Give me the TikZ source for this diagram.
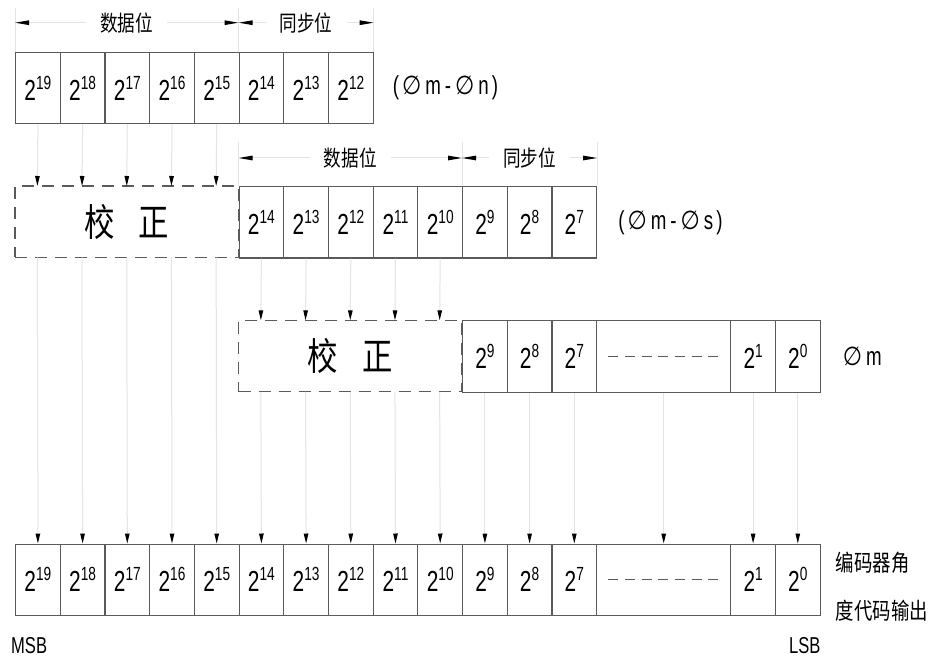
\documentclass[tikz,border=0pt]{standalone}
\usepackage{fontspec}
\setmainfont{Liberation Sans}[FakeStretch=0.72]
\newfontfamily\cjk{Noto Sans CJK SC}[FakeStretch=0.8]
\newfontfamily\symf{DejaVu Sans}[FakeStretch=0.85]
\usepackage{tikz}
\usetikzlibrary{arrows.meta,fit,positioning}

\definecolor{boxgray}{HTML}{5A5A5A}
\definecolor{linegray}{HTML}{E4E4E4}
\newcommand{\pw}[1]{2\raisebox{11pt}{\fontsize{19}{19}\selectfont #1}}
\newcommand{\phm}{{\symf ∅}}

\tikzset{
  cell/.style={draw=boxgray, line width=1.1pt, minimum width=44.7pt, minimum height=71.5pt,
    inner sep=0pt, anchor=north west, font=\fontsize{29}{29}\selectfont},
  hole/.style={cell, draw=none, outer sep=0pt},
  corrbox/.style={draw=boxgray, line width=1.1pt, dash pattern=on 12pt off 8pt, inner sep=0pt},
  corrtext/.style={inner sep=0pt, font=\cjk\fontsize{38}{38}\selectfont},
  feed/.style={draw=linegray, line width=1pt, -{Triangle[length=10pt,width=4.5pt,color=black]}},
  dimline/.style={draw=linegray, line width=1pt,
    {Triangle[length=14pt,width=4.5pt,color=black]}-{Triangle[length=14pt,width=4.5pt,color=black]}},
  extline/.style={draw=linegray, line width=1pt},
  dimtext/.style={fill=white, inner xsep=14pt, inner ysep=0pt, font=\cjk\fontsize{22}{22}\selectfont},
  sidetext/.style={inner sep=0pt, font=\fontsize{26}{26}\selectfont},
  cjktext/.style={inner sep=0pt, anchor=west, font=\cjk\fontsize{23}{23}\selectfont},
  endtext/.style={inner sep=0pt, text depth=0pt, font=\fontsize{23}{23}\selectfont},
}

\begin{document}
\begin{tikzpicture}[x=1pt,y=-1pt]
  \useasboundingbox (0,0) rectangle (931,660);

  % first word (phi m - phi n)
  \foreach \i in {0,...,7}{
    \pgfmathtruncatemacro\e{19-\i}
    \node[cell] (r1c\i) at (15+\i*44.7,51.7) {\pw{\e}};
  }
  \node[sidetext, right=19pt of r1c7] (lab1)
    {(\hspace{3pt}\phm\hspace{4pt}m\hspace{4pt}-\hspace{4pt}\phm\hspace{4pt}n\hspace{3pt})};

  % second word (phi m - phi s)
  \foreach \i in {0,...,4}
    \node[hole] (r2c\i) at (15+\i*44.7,186) {};
  \node[corrbox, fit=(r2c0)(r2c4)] (cor2) {};
  \node[corrtext] (txt2) at (cor2.center) {校\hspace{24pt}正};
  \foreach \i in {5,...,12}{
    \pgfmathtruncatemacro\e{19-\i}
    \node[cell] (r2c\i) at (15+\i*44.7,186) {\pw{\e}};
  }
  \node[sidetext, right=21pt of r2c12] (lab2)
    {(\hspace{3pt}\phm\hspace{4pt}m\hspace{4pt}-\hspace{4pt}\phm\hspace{4pt}s\hspace{3pt})};

  % third word phi m
  \foreach \i in {5,...,9}
    \node[hole] (r3c\i) at (15+\i*44.7,320.3) {};
  \node[corrbox, fit=(r3c5)(r3c9)] (cor3) {};
  \node[corrtext] (txt3) at (cor3.center) {校\hspace{24pt}正};
  \foreach \i in {10,11,12}{
    \pgfmathtruncatemacro\e{19-\i}
    \node[cell] (r3c\i) at (15+\i*44.7,320.3) {\pw{\e}};
  }
  \node[cell, minimum width=134.1pt] (r3d) at (15+13*44.7,320.3) {};
  \node[cell] (r3c16) at (15+16*44.7,320.3) {\pw{1}};
  \node[cell] (r3c17) at (15+17*44.7,320.3) {\pw{0}};
  \draw[boxgray, line width=1pt, dash pattern=on 10pt off 6.7pt]
    ([xshift=12pt]r3d.west) -- ([xshift=-12pt]r3d.east);
  \node[sidetext, right=22pt of r3c17] (lab3) {\phm\hspace{4pt}m};

  % output word
  \foreach \i in {0,...,12}{
    \pgfmathtruncatemacro\e{19-\i}
    \node[cell] (r4c\i) at (15+\i*44.7,543.5) {\pw{\e}};
  }
  \node[cell, minimum width=134.1pt] (r4d) at (15+13*44.7,543.5) {};
  \node[cell] (r4c16) at (15+16*44.7,543.5) {\pw{1}};
  \node[cell] (r4c17) at (15+17*44.7,543.5) {\pw{0}};
  \draw[boxgray, line width=1pt, dash pattern=on 10pt off 6.7pt]
    ([xshift=12pt]r4d.west) -- ([xshift=-12pt]r4d.east);
  \node[cjktext] (out1) at ([xshift=15pt,yshift=17pt]r4c17.east) {编码器角};
  \node[cjktext] (out2) at ([xshift=15pt,yshift=-31pt]r4c17.east) {度代码输出};
  \node[endtext, anchor=base west] (msb) at ([xshift=-4pt,yshift=-37pt]r4c0.south west) {MSB};
  \node[endtext, anchor=base east] (lsb) at ([yshift=-37pt]r4c17.south east) {LSB};

  % feeds between words
  \foreach \i in {0,...,4}{
    \draw[feed] (r1c\i.south) -- (r2c\i.north);
    \draw[feed] (r2c\i.south) -- (r4c\i.north);
  }
  \foreach \i in {5,...,9}{
    \draw[feed] (r2c\i.south) -- (r3c\i.north);
    \draw[feed] (r3c\i.south) -- (r4c\i.north);
  }
  \foreach \n in {c10,c11,c12,d,c16,c17}
    \draw[feed] (r3\n.south) -- (r4\n.north);

  % dimension lines
  \foreach \a in {r1c0.north west,r1c5.north west,r1c7.north east,
                  r2c5.north west,r2c10.north west,r2c12.north east}
    \draw[extline] (\a) -- ([yshift=44pt]\a);
  \coordinate (d1a) at ([yshift=29pt]r1c0.north west);
  \coordinate (d1b) at ([yshift=29pt]r1c5.north west);
  \coordinate (d1c) at ([yshift=29pt]r1c7.north east);
  \draw[dimline] (d1a) -- node[dimtext]{数据位} (d1b);
  \draw[dimline] (d1b) -- node[dimtext]{同步位} (d1c);
  \coordinate (d2a) at ([yshift=28pt]r2c5.north west);
  \coordinate (d2b) at ([yshift=28pt]r2c10.north west);
  \coordinate (d2c) at ([yshift=28pt]r2c12.north east);
  \draw[dimline] (d2a) -- node[dimtext]{数据位} (d2b);
  \draw[dimline] (d2b) -- node[dimtext]{同步位} (d2c);
\end{tikzpicture}
\end{document}
